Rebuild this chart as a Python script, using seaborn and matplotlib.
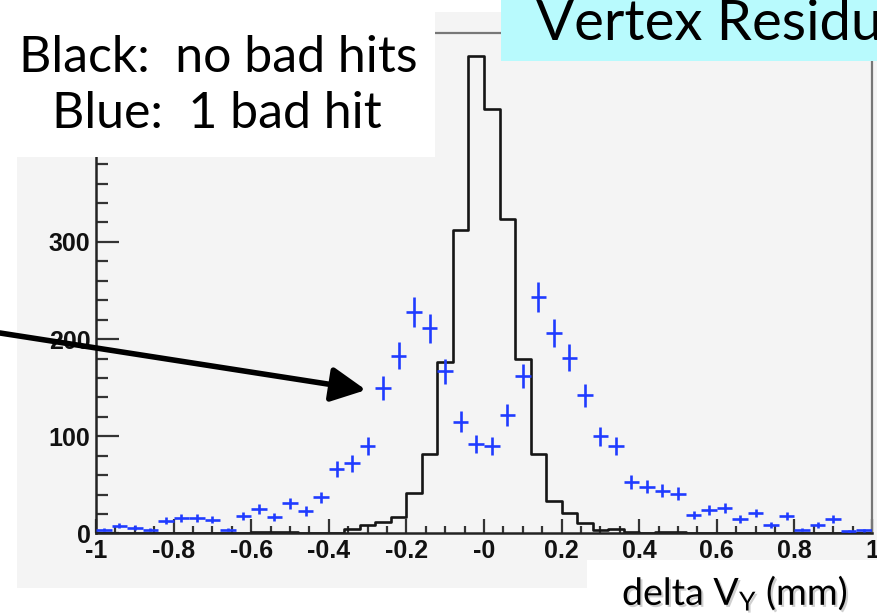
import numpy as np
import pandas as pd
import seaborn as sns
import matplotlib
matplotlib.use("Agg")
import matplotlib.pyplot as plt
from matplotlib.patches import Rectangle, FancyArrowPatch
from matplotlib.ticker import MultipleLocator
from matplotlib.font_manager import FontProperties
import matplotlib.patheffects as pe

# ---- data: 50 bins of 0.04 mm from -1 to 1 ----
bin_edges = np.linspace(-1.0, 1.0, 51)
bin_centers = 0.5 * (bin_edges[:-1] + bin_edges[1:])

# tracks with no bad hits (black histogram)
no_bad_hits = [0, 0, 0, 0, 0, 0, 0, 0, 0, 0,
               1, 1, 1, 0, 0, 0, 5, 9, 12, 17,
               42, 82, 176, 312, 491, 437, 324, 180, 82, 33,
               21, 11, 4, 5, 1, 0, 1, 1, 0, 0,
               0, 0, 0, 0, 0, 0, 0, 0, 0, 0]

# tracks with one bad hit (blue points)
one_bad_hit = [4, 8, 6, 4, 13, 16, 16, 14, 4, 18,
               25, 17, 31, 23, 37, 66, 72, 90, 150, 183,
               228, 211, 167, 115, 92, 90, 122, 162, 243, 206,
               181, 142, 100, 90, 53, 48, 44, 41, 19, 24,
               26, 15, 21, 9, 18, 4, 9, 15, 2, 3]

x_ticks = [-1, -0.8, -0.6, -0.4, -0.2, 0, 0.2, 0.4, 0.6, 0.8, 1]
x_tick_labels = ["-1", "-0.8", "-0.6", "-0.4", "-0.2", "-0", "0.2", "0.4", "0.6", "0.8", "1"]
y_ticks = [0, 100, 200, 300, 400, 500]
y_tick_labels = ["0", "100", "200", "300", "", ""]   # upper labels sit under the note box

hist_df = pd.DataFrame({"delta_vy": bin_centers, "count": no_bad_hits})

W, H = 877, 614
PAD_GREY = "#f4f4f4"
BLUE = "#1f3bff"

sns.set_style("white")
plt.rcParams["font.family"] = ["Lato", "DejaVu Sans"]
plt.rcParams["mathtext.fontset"] = "custom"
plt.rcParams["mathtext.rm"] = "Lato"
plt.rcParams["mathtext.it"] = "Lato"

fig = plt.figure(figsize=(W / 100, H / 100), dpi=100)
fig.patch.set_facecolor("white")


def fx(px):
    return px / W


def fy(py):
    return 1 - py / H


# grey canvas pad
fig.add_artist(Rectangle((fx(17), fy(588)), fx(W - 17), (588 - 12) / H,
                         transform=fig.transFigure, facecolor=PAD_GREY,
                         edgecolor="none", zorder=-5))

ax = fig.add_axes([fx(96), fy(533.4), fx(872 - 96), (533.4 - 32.5) / H])
ax.set_facecolor(PAD_GREY)

sns.histplot(data=hist_df, x="delta_vy", weights="count",
             binwidth=0.04, binrange=(-1.0, 1.0),
             element="step", fill=False, color="#151515", linewidth=1.9, ax=ax)

ax.errorbar(bin_centers, one_bad_hit, xerr=0.02, yerr=np.sqrt(one_bad_hit),
            fmt="none", ecolor=BLUE, elinewidth=1.9, capsize=0, zorder=4)

ax.set_xlim(-1, 1)
ax.set_ylim(0, 1.05 * max(no_bad_hits))
ax.set_xlabel("")
ax.set_ylabel("")

tick_font = FontProperties(family="Liberation Sans", weight="bold", size=18)
ax.set_xticks(x_ticks, labels=x_tick_labels, fontproperties=tick_font, color="#111111")
ax.set_yticks(y_ticks, labels=y_tick_labels, fontproperties=tick_font, color="#111111")
ax.xaxis.set_minor_locator(MultipleLocator(0.05))
ax.yaxis.set_minor_locator(MultipleLocator(20))

ax.tick_params(axis="x", which="major", direction="in", length=10, width=1.6,
               color="#333333", pad=4, bottom=True, top=False)
ax.tick_params(axis="x", which="minor", direction="in", length=5, width=1.6,
               color="#333333", bottom=True, top=False)
ax.tick_params(axis="y", which="major", direction="in", length=16.5, width=1.6,
               color="#333333", pad=4, left=True, right=False)
ax.tick_params(axis="y", which="minor", direction="in", length=8.5, width=1.6,
               color="#333333", left=True, right=False)

for side in ["left", "bottom"]:
    ax.spines[side].set_color("#222222")
    ax.spines[side].set_linewidth(1.8)
for side in ["top", "right"]:
    ax.spines[side].set_color("#777777")
    ax.spines[side].set_linewidth(1.6)

# legend note box
fig.add_artist(Rectangle((fx(17), fy(157)), fx(435 - 17), (157 - 12) / H,
                         transform=fig.transFigure, facecolor="white",
                         edgecolor="none", zorder=10))
fig.text(fx(218), fy(72), "Black:  no bad hits", ha="center", va="baseline",
         fontsize=36, color="black", zorder=11)
fig.text(fx(217), fy(128), "Blue:  1 bad hit", ha="center", va="baseline",
         fontsize=36, color="black", zorder=11)

# title banner
fig.add_artist(Rectangle((fx(501), fy(61)), fx(W - 501), 61 / H,
                         transform=fig.transFigure, facecolor="#b8fafd",
                         edgecolor="none", zorder=10))
fig.text(fx(536), fy(40), "Vertex Residuals", ha="left", va="baseline",
         fontsize=40.5, color="black", zorder=11)

# axis title box
fig.add_artist(Rectangle((fx(587), 0), fx(W - 587), (H - 560) / H,
                         transform=fig.transFigure, facecolor="white",
                         edgecolor="none", zorder=10))
fig.text(fx(622), fy(605), r"delta V$_{\mathrm{Y}}$ (mm)", ha="left", va="baseline",
         fontsize=27, color="black", zorder=11,
         path_effects=[pe.SimplePatchShadow(offset=(1.5, -1.5), shadow_rgbFace="#888888", alpha=0.4),
                       pe.Normal()])

# pointer arrow
fig.add_artist(FancyArrowPatch(posA=(0, fy(333)), posB=(fx(366), fy(390)),
                               transform=fig.transFigure,
                               arrowstyle="-|>,head_length=0.7,head_width=0.35",
                               mutation_scale=30, lw=4.0, color="black",
                               shrinkA=0, shrinkB=0, zorder=12))

fig.savefig("out.png", dpi=100)
